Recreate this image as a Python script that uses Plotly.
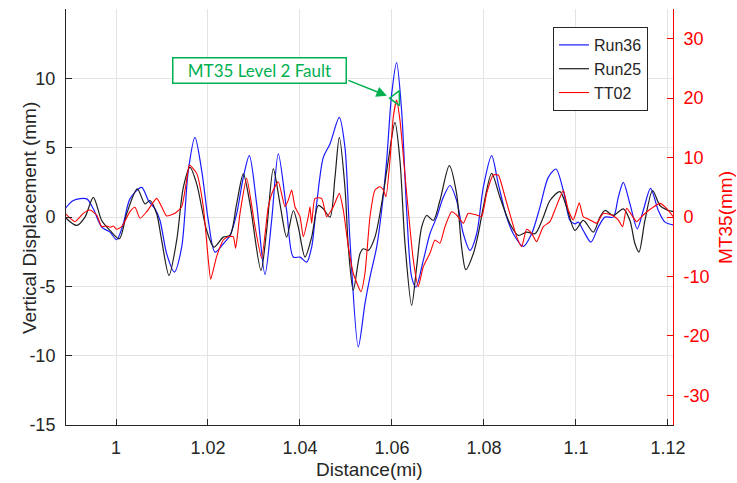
import plotly.graph_objects as go

# ---- data -------------------------------------------------------------
dist_run36 = [0.98891, 0.99072, 0.99363, 0.99507, 0.99689, 0.99870, 1.00014, 1.00159, 1.00304, 1.00558,
              1.00703, 1.00848, 1.00957, 1.01102, 1.01268, 1.01428, 1.01572, 1.01717, 1.01863, 1.02007,
              1.02152, 1.02333, 1.02478, 1.02623, 1.02768, 1.02899, 1.03058, 1.03239, 1.03384, 1.03529,
              1.03710, 1.03855, 1.04000, 1.04145, 1.04254, 1.04362, 1.04507, 1.04652, 1.04855, 1.04978,
              1.05087, 1.05268, 1.05413, 1.05522, 1.05667, 1.05775, 1.05884, 1.05993, 1.06101, 1.06210,
              1.06319, 1.06428, 1.06522, 1.06681, 1.06826, 1.06971, 1.07116, 1.07261, 1.07406, 1.07551,
              1.07696, 1.07841, 1.07986, 1.08167, 1.08311, 1.08493, 1.08638, 1.08855, 1.09036, 1.09217,
              1.09398, 1.09565, 1.09725, 1.09870, 1.09978, 1.10051, 1.10159, 1.10326, 1.10486, 1.10630,
              1.10812, 1.10920, 1.11029, 1.11174, 1.11333, 1.11463, 1.11623, 1.11790, 1.11935, 1.12189]
run36 = [0.59, 1.19, 1.31, 0.59, -0.73, -1.09, -1.64, -0.49, 1.31, 2.14,
         1.19, 0.59, -0.25, -2.65, -3.97, -2.17, 3.35, 5.74, 3.35, -0.25,
         -2.53, -1.93, -1.33, 0.23, 2.86, 4.42, 0.95, -4.14, -0.25, 4.55,
         0.47, -2.89, -2.89, -3.25, -2.17, 0.95, 4.30, 5.27, 7.18, 5.02,
         -1.69, -9.37, -6.24, -4.33, -2.17, 0.47, 4.06, 8.86, 11.14, 7.66,
         0.47, -4.33, -5.05, -3.13, -1.21, -0.01, 1.42, 2.27, 1.19, -1.21,
         -2.41, -1.21, 2.14, 4.42, 2.39, -0.01, -1.21, -2.12, -1.21, 0.71,
         2.86, 3.46, 1.91, -0.25, -0.49, -0.37, -0.97, -1.81, -0.73, -0.01,
         -0.01, 1.42, 2.50, 0.95, -0.85, 0.47, 2.07, 0.47, -0.37, -0.61]

dist_run25 = [0.98891, 0.99145, 0.99326, 0.99507, 0.99689, 0.99870, 1.00072, 1.00232, 1.00463, 1.00630,
              1.00739, 1.00884, 1.00993, 1.01152, 1.01319, 1.01464, 1.01609, 1.01754, 1.01971, 1.02130,
              1.02333, 1.02478, 1.02623, 1.02768, 1.02913, 1.03152, 1.03275, 1.03420, 1.03565, 1.03710,
              1.03855, 1.03964, 1.04109, 1.04254, 1.04399, 1.04507, 1.04652, 1.04761, 1.04855, 1.04978,
              1.05051, 1.05159, 1.05304, 1.05377, 1.05486, 1.05630, 1.05775, 1.05920, 1.06065, 1.06174,
              1.06283, 1.06428, 1.06536, 1.06645, 1.06754, 1.06899, 1.07043, 1.07246, 1.07406, 1.07514,
              1.07605, 1.07768, 1.07877, 1.07986, 1.08167, 1.08348, 1.08565, 1.08746, 1.08928, 1.09109,
              1.09290, 1.09435, 1.09652, 1.09797, 1.09978, 1.10159, 1.10377, 1.10522, 1.10630, 1.10812,
              1.11029, 1.11174, 1.11283, 1.11370, 1.11500, 1.11667, 1.11826, 1.12007, 1.12152, 1.12225]
run25 = [-0.01, -0.61, -0.01, 1.42, -0.25, -0.97, -1.57, 0.23, 2.03, 0.95,
         1.19, 0.23, -1.69, -4.21, -1.69, 2.14, 3.58, 2.39, -0.97, -2.17,
         -1.45, -1.33, 0.95, 3.11, 0.95, -3.85, -0.97, 3.47, 0.95, -1.45,
         0.47, -0.73, -2.89, -1.45, 0.83, 0.59, -0.01, 2.86, 5.74, 2.14,
         -2.17, -5.29, -2.65, -2.29, -2.41, -1.45, 0.95, 4.06, 6.82, 4.06,
         -1.93, -6.37, -3.61, -0.73, 0.11, -0.25, 1.19, 3.71, 1.67, -2.17,
         -3.80, -2.65, -1.21, 0.71, 3.15, 1.42, -0.49, -1.33, -1.09, -1.21,
         -0.01, 1.19, 1.83, 0.71, -0.97, -0.25, -1.09, -0.01, 0.47, 0.11,
         0.59, -0.25, -1.93, -2.53, -0.25, 1.91, 0.83, 0.47, 0.35, -0.01]

dist_tt02 = [0.98891, 0.99109, 0.99289, 0.99435, 0.99580, 0.99689, 0.99798, 0.99870, 0.99942, 1.00014,
             1.00123, 1.00304, 1.00413, 1.00522, 1.00667, 1.00884, 1.00993, 1.01101, 1.01283, 1.01428,
             1.01536, 1.01594, 1.01754, 1.01898, 1.02007, 1.02058, 1.02188, 1.02333, 1.02442, 1.02550,
             1.02601, 1.02696, 1.02841, 1.03022, 1.03167, 1.03312, 1.03420, 1.03529, 1.03674, 1.03746,
             1.03819, 1.03891, 1.04000, 1.04072, 1.04181, 1.04217, 1.04254, 1.04326, 1.04471, 1.04580,
             1.04725, 1.04855, 1.04942, 1.05051, 1.05159, 1.05326, 1.05413, 1.05522, 1.05630, 1.05739,
             1.05812, 1.05870, 1.05957, 1.06029, 1.06101, 1.06174, 1.06319, 1.06464, 1.06572, 1.06681,
             1.06826, 1.06935, 1.07043, 1.07152, 1.07297, 1.07406, 1.07551, 1.07659, 1.07841, 1.07950,
             1.08058, 1.08203, 1.08311, 1.08457, 1.08601, 1.08710, 1.08819, 1.08928, 1.09036, 1.09145,
             1.09290, 1.09435, 1.09543, 1.09725, 1.09833, 1.09942, 1.10072, 1.10159, 1.10304, 1.10449,
             1.10594, 1.10775, 1.10920, 1.11014, 1.11101, 1.11210, 1.11319, 1.11463, 1.11645, 1.11826,
             1.11971, 1.12116]
tt02 = [0.62, -0.79, 0.62, 1.18, 0.34, -1.63, -1.51, -1.73, -1.51, -2.07,
        -1.63, 0.89, 1.63, -0.22, 0.89, 3.14, 1.73, 0.17, 0.62, 1.73,
        6.22, 8.74, 7.34, 1.73, -7.23, -10.47, -6.67, -3.87, -3.31, -3.31,
        -5.26, 0.62, 6.50, -1.63, -6.94, 1.73, 4.54, 5.93, 1.73, 2.86,
        4.54, 1.73, 0.05, -3.31, 0.05, 1.73, -1.06, 3.14, 3.14, 0.05,
        1.73, 3.98, 1.18, -4.99, -9.46, -12.55, -9.46, 0.05, 4.54, 5.09,
        4.54, 3.41, 9.58, 16.86, 19.66, 16.30, 3.98, -7.23, -11.71, -8.35,
        -6.10, -3.87, -4.42, -1.63, 0.89, 0.34, -1.06, 0.62, 0.34, 0.05,
        3.98, 7.06, 7.06, 3.41, -0.50, -3.31, -4.99, -2.07, -2.74, -4.15,
        -1.63, -0.79, 1.18, 4.43, 1.18, -0.50, 2.41, 0.05, -0.50, -1.06,
        0.62, 0.34, -0.50, -1.63, 1.46, 0.34, -0.79, 0.34, 1.46, 2.30,
        1.46, 0.05]

# flagged fault location on the MT35 scale
fault_dist = [1.0609]
fault_mt35 = [20.0]
fault_label = "MT35 Level 2 Fault"

x_ticks = [1.00, 1.02, 1.04, 1.06, 1.08, 1.10, 1.12]
x_labels = ["1", "1.02", "1.04", "1.06", "1.08", "1.1", "1.12"]
y_ticks = [-15, -10, -5, 0, 5, 10]
y_labels = ["-15", "-10", "-5", "0", "5", "10"]
y2_ticks = [-30, -20, -10, 0, 10, 20, 30]
y2_labels = ["-30", "-20", "-10", "0", "10", "20", "30"]

# ---- styling ----------------------------------------------------------
FONT = "Liberation Sans, Arial, sans-serif"
AX = "#262626"
GRID = "#e3e3e3"
GREEN = "#00B050"

fig = go.Figure()
fig.add_trace(go.Scatter(x=dist_run36, y=run36, name="Run36", mode="lines",
                         line=dict(color="#1a1aff", width=1.2, shape="spline", smoothing=0.8)))
fig.add_trace(go.Scatter(x=dist_run25, y=run25, name="Run25", mode="lines",
                         line=dict(color="#1e1e1e", width=1.2, shape="spline", smoothing=0.8)))
fig.add_trace(go.Scatter(x=dist_tt02, y=tt02, name="TT02", mode="lines", yaxis="y2",
                         line=dict(color="#ff0000", width=1.1, shape="spline", smoothing=0.5)))
fig.add_trace(go.Scatter(x=fault_dist, y=fault_mt35, mode="markers", yaxis="y2", showlegend=False,
                         marker=dict(symbol="triangle-left-open", size=13, color=GREEN,
                                     line=dict(color=GREEN, width=1.5))))

fig.update_layout(
    width=737, height=483,
    margin=dict(l=66, r=64, t=9, b=58, pad=0),
    paper_bgcolor="white", plot_bgcolor="white",
    font=dict(family=FONT, size=18, color=AX),
    showlegend=True,
    xaxis=dict(range=[0.98913, 1.1211], tickvals=x_ticks, ticktext=x_labels,
               ticks="inside", ticklen=6, tickcolor=AX, showline=True, linecolor=AX, linewidth=1,
               showgrid=True, gridcolor=GRID, zeroline=False, ticklabelstandoff=6),
    yaxis=dict(range=[-15, 15], tickvals=y_ticks, ticktext=y_labels,
               ticks="inside", ticklen=6, tickcolor=AX, showline=True, linecolor=AX, linewidth=1,
               showgrid=True, gridcolor=GRID, zeroline=False, ticklabelstandoff=6),
    yaxis2=dict(overlaying="y", side="right", range=[-35, 35], tickvals=y2_ticks, ticktext=y2_labels,
                ticks="inside", ticklen=6, tickcolor="#ff0000", showline=True, linecolor="#ff0000",
                linewidth=1, showgrid=False, zeroline=False, tickfont=dict(color="#ff0000"),
                ticklabelstandoff=6),
    legend=dict(x=0.8023, y=0.9567, xanchor="left", yanchor="top", bgcolor="white",
                bordercolor=AX, borderwidth=1, font=dict(size=16, color=AX),
                tracegroupgap=0),
)

annotations = [
    # axis titles
    dict(text="Vertical Displacement (mm)", xref="paper", yref="paper", x=-0.0593, y=0.4976,
         xanchor="center", yanchor="middle", textangle=-90, showarrow=False,
         font=dict(size=19, color=AX)),
    dict(text="MT35(mm)", xref="paper", yref="paper", x=1.0855, y=0.5,
         xanchor="center", yanchor="middle", textangle=-90, showarrow=False,
         font=dict(size=19, color="#ff0000")),
    dict(text="Distance(mi)", xref="paper", yref="paper", x=0.4992, y=-0.1058,
         xanchor="center", yanchor="middle", showarrow=False,
         font=dict(size=19, color=AX)),
    # callout box
    dict(text=fault_label, xref="paper", yref="paper", x=0.3188, y=0.851,
         xanchor="center", yanchor="middle", showarrow=False,
         width=170, height=22, borderpad=1, bordercolor=GREEN, borderwidth=1.5, bgcolor="white",
         font=dict(family="Lato, Open Sans, sans-serif", size=17, color=GREEN)),
    # callout arrow
    dict(text="", x=1.0589, y=8.74, xref="x", yref="y", ax=-40, ay=-16,
         showarrow=True, arrowhead=2, arrowsize=1.4, arrowwidth=1.5, arrowcolor=GREEN,
         standoff=0, startstandoff=0),
]
fig.update_layout(annotations=annotations)

fig.write_html("out.html")
